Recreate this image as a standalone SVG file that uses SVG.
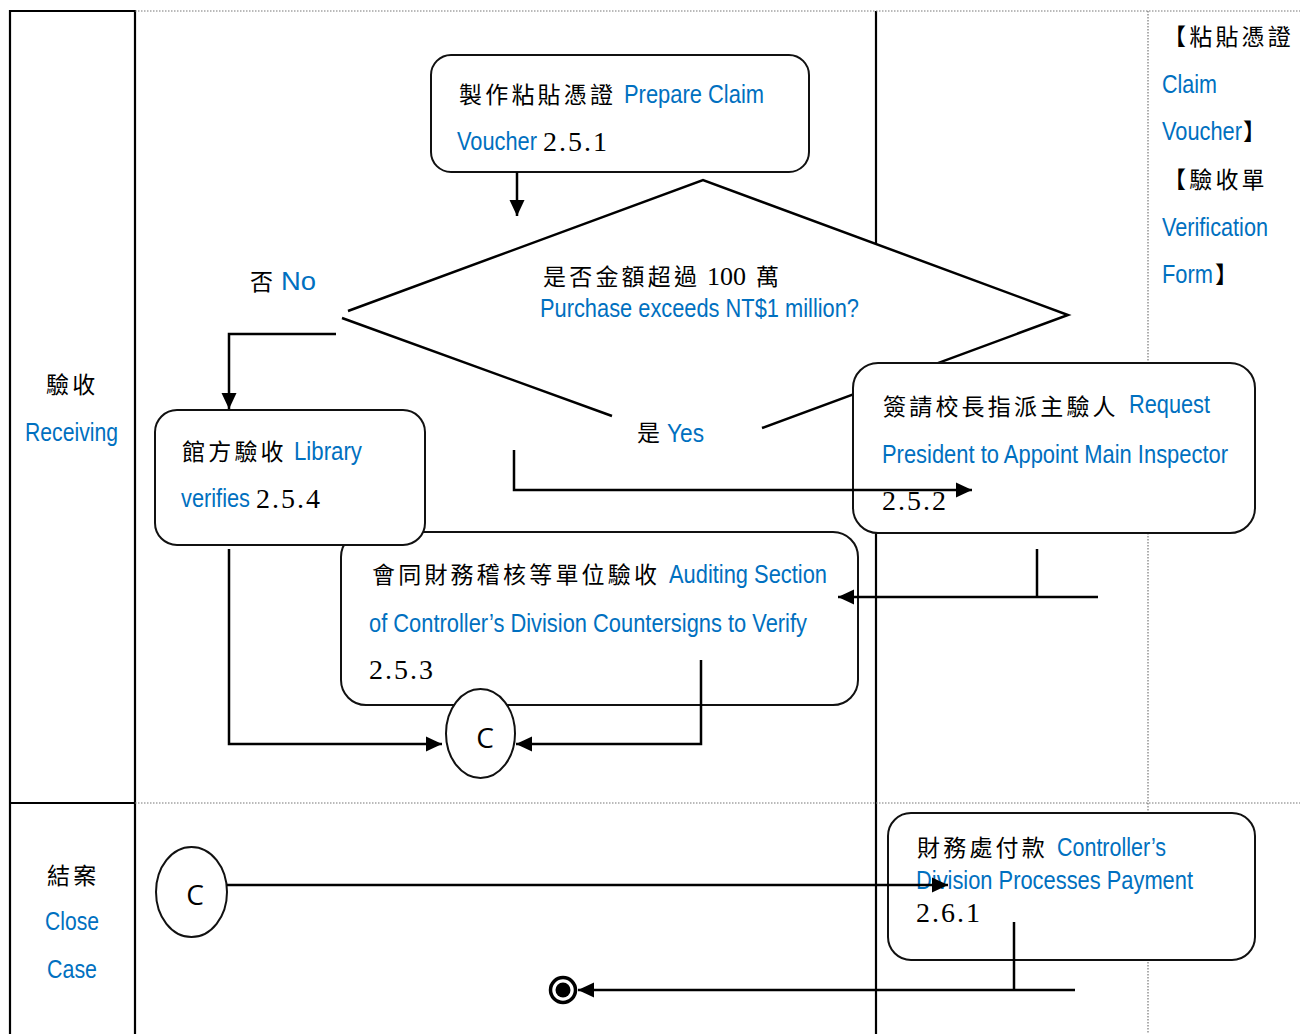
<svg xmlns="http://www.w3.org/2000/svg" width="1300" height="1034" viewBox="0 0 1300 1034">
<style>
.lane{stroke:#000;stroke-width:2.2;fill:none}
.dot{stroke:#777;stroke-width:1.2;stroke-dasharray:1.5 1.5;fill:none}
.box{fill:#fff;stroke:#111;stroke-width:2}
.conn{stroke:#000;stroke-width:2.5;fill:none}
.cjk{font-family:"Noto Sans CJK TC",sans-serif;font-size:23px;letter-spacing:3.2px;fill:#000}
.en{font-family:"Liberation Sans",Arial,sans-serif;font-size:26px;fill:#0070C0}
.num{font-family:"Liberation Serif",serif;font-size:28px;letter-spacing:2px;fill:#000}
.c{font-family:"Open Sans",sans-serif;font-size:28px;fill:#000;text-anchor:middle}
</style>
<defs>
<marker id="ah" viewBox="0 0 16 16" refX="16" refY="8" markerWidth="16" markerHeight="16" markerUnits="userSpaceOnUse" orient="auto"><path d="M0,0.5 L16,8 L0,15.5 z" fill="#000"/></marker>
</defs>
<rect width="1300" height="1034" fill="#fff"/>
<g id="lanes">
<path class="lane" d="M10,1034 V11 H135 V1034 M10,803 H135 M876,11 V1034"/>
<path class="dot" d="M135,11 H1300 M135,803 H1300 M1148,11 V1034"/>
<text class="cjk" x="46" y="393">驗收</text>
<text class="en" x="25" y="441" textLength="93" lengthAdjust="spacingAndGlyphs">Receiving</text>
<text class="cjk" x="47" y="884">結案</text>
<text class="en" x="45" y="930" textLength="54" lengthAdjust="spacingAndGlyphs">Close</text>
<text class="en" x="47" y="978" textLength="50" lengthAdjust="spacingAndGlyphs">Case</text>
</g>
<g id="docs">
<text class="cjk" x="1163" y="45">【粘貼憑證</text>
<text class="en" x="1162" y="93" textLength="55" lengthAdjust="spacingAndGlyphs">Claim</text>
<text class="en" x="1162" y="140" textLength="80" lengthAdjust="spacingAndGlyphs">Voucher</text>
<text class="cjk" x="1243" y="140">】</text>
<text class="cjk" x="1163" y="188">【驗收單</text>
<text class="en" x="1162" y="236" textLength="106" lengthAdjust="spacingAndGlyphs">Verification</text>
<text class="en" x="1162" y="283" textLength="51" lengthAdjust="spacingAndGlyphs">Form</text>
<text class="cjk" x="1215" y="283">】</text>
</g>
<g id="decision">
<polygon points="345,315 703,180 1068,315 704,442" fill="#fff"/>
<path class="conn" stroke-width="2" d="M348,311 L703,180 L1068,315 L762,428 M612,416 L342,318"/>
<text><tspan class="cjk" x="543" y="285">是否金額超過</tspan><tspan class="num" style="font-size:26px;letter-spacing:0" x="707" y="285">100</tspan><tspan class="cjk" x="756" y="285">萬</tspan></text>
<text class="en" x="540" y="317" textLength="319" lengthAdjust="spacingAndGlyphs">Purchase exceeds NT$1 million?</text>
<text class="cjk" x="250" y="290">否</text>
<text class="en" x="281" y="290" textLength="35" lengthAdjust="spacingAndGlyphs">No</text>
<text class="cjk" x="637" y="441">是</text>
<text class="en" x="667" y="442" textLength="37" lengthAdjust="spacingAndGlyphs">Yes</text>
</g>
<g id="n251">
<rect class="box" x="431" y="55" width="378" height="117" rx="20"/>
<text class="cjk" x="459" y="103">製作粘貼憑證</text>
<text class="en" x="624" y="103" textLength="140" lengthAdjust="spacingAndGlyphs">Prepare Claim</text>
<text class="en" x="457" y="150" textLength="80" lengthAdjust="spacingAndGlyphs">Voucher</text>
<text class="num" x="543" y="151">2.5.1</text>
</g>
<g id="n253">
<rect class="box" x="341" y="532" width="517" height="173" rx="25"/>
<text class="cjk" x="372" y="583">會同財務稽核等單位驗收</text>
<text class="en" x="669" y="583" textLength="158" lengthAdjust="spacingAndGlyphs">Auditing Section</text>
<text class="en" x="369" y="632" textLength="438" lengthAdjust="spacingAndGlyphs">of Controller’s Division Countersigns to Verify</text>
<text class="num" x="369" y="679">2.5.3</text>
</g>
<g id="n254">
<rect class="box" x="155" y="410" width="270" height="135" rx="22"/>
<text class="cjk" x="182" y="460">館方驗收</text>
<text class="en" x="294" y="460" textLength="68" lengthAdjust="spacingAndGlyphs">Library</text>
<text class="en" x="181" y="507" textLength="69" lengthAdjust="spacingAndGlyphs">verifies</text>
<text class="num" x="256" y="508">2.5.4</text>
</g>
<g id="n252">
<rect class="box" x="853" y="363" width="402" height="170" rx="25"/>
<text class="cjk" x="883" y="415">簽請校長指派主驗人</text>
<text class="en" x="1129" y="413" textLength="81" lengthAdjust="spacingAndGlyphs">Request</text>
<text class="en" x="882" y="463" textLength="346" lengthAdjust="spacingAndGlyphs">President to Appoint Main Inspector</text>
<text class="num" x="882" y="510">2.5.2</text>
</g>
<g id="c1">
<ellipse class="box" cx="480.5" cy="733.5" rx="34.5" ry="44.5"/>
<text class="c" x="485" y="748">C</text>
</g>
<g id="c2">
<ellipse class="box" cx="191.5" cy="892" rx="35.5" ry="45"/>
<text class="c" x="195" y="905">C</text>
</g>
<g id="n261">
<rect class="box" x="888" y="813" width="367" height="147" rx="23"/>
<text class="cjk" x="917" y="856">財務處付款</text>
<text class="en" x="1057" y="856" textLength="109" lengthAdjust="spacingAndGlyphs">Controller’s</text>
<text class="en" x="916" y="889" textLength="277" lengthAdjust="spacingAndGlyphs">Division Processes Payment</text>
<text class="num" x="916" y="922">2.6.1</text>
</g>
<g id="end">
<circle cx="563" cy="990" r="12.5" fill="#fff" stroke="#000" stroke-width="3.5"/>
<circle cx="563" cy="990" r="7.5" fill="#000"/>
</g>
<g id="connectors">
<path class="conn" d="M517,172 V216" marker-end="url(#ah)"/>
<path class="conn" d="M336,334 H229 V409" marker-end="url(#ah)"/>
<path class="conn" d="M514,450 V490 H972" marker-end="url(#ah)"/>
<path class="conn" d="M1037,549 V597"/>
<path class="conn" d="M1098,597 H838" marker-end="url(#ah)"/>
<path class="conn" d="M229,549 V744 H442" marker-end="url(#ah)"/>
<path class="conn" d="M701,660 V744 H516" marker-end="url(#ah)"/>
<path class="conn" d="M227,885 H948" marker-end="url(#ah)"/>
<path class="conn" d="M1014,922 V990"/>
<path class="conn" d="M1075,990 H578" marker-end="url(#ah)"/>
</g>
</svg>
